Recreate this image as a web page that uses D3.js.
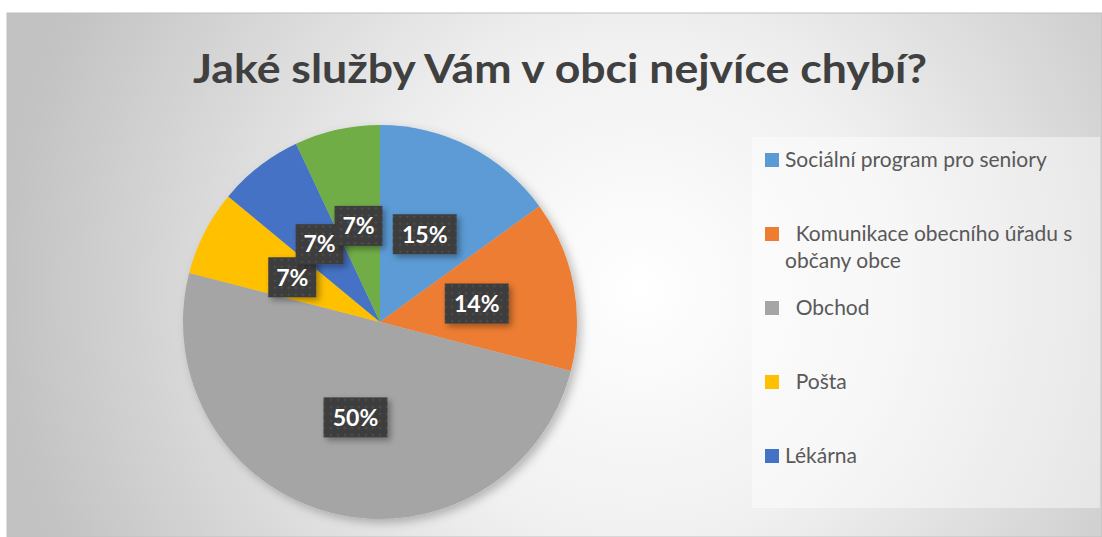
<!DOCTYPE html>
<html>
<head>
<meta charset="utf-8">
<script src="https://cdn.jsdelivr.net/npm/d3@7"></script>
<style>
  body { margin: 0; background: #fff; }
  svg { display: block; font-family: Lato, 'Open Sans', sans-serif; }
</style>
</head>
<body>
<svg></svg>
<script>
const title = 'Jaké služby Vám v obci nejvíce chybí?';
const categories = [
  'Sociální program pro seniory',
  '  Komunikace obecního úřadu s občany obce',
  '  Obchod',
  '  Pošta',
  'Lékárna',
  'Jiné',
];
const values = [15, 14, 50, 7, 7, 7];
const colors = ['#5B9BD5', '#ED7D31', '#A5A5A5', '#FFC000', '#4472C4', '#70AD47'];

const width = 1102;
const height = 537;

const svg = d3.select('svg')
  .attr('width', width)
  .attr('height', height);

const defs = svg.append('defs');

const bg = defs.append('radialGradient')
  .attr('id', 'bg')
  .attr('gradientUnits', 'userSpaceOnUse')
  .attr('cx', 640).attr('cy', 290).attr('r', 640);
bg.append('stop').attr('offset', 0).attr('stop-color', '#ffffff');
bg.append('stop').attr('offset', 0.4).attr('stop-color', '#f0f0f0');
bg.append('stop').attr('offset', 1).attr('stop-color', '#c2c2c2');

const dots = defs.append('pattern')
  .attr('id', 'dots')
  .attr('patternUnits', 'userSpaceOnUse')
  .attr('width', 7).attr('height', 7);
dots.append('rect').attr('width', 7).attr('height', 7).attr('fill', '#3d3d3d');
dots.append('circle').attr('cx', 3.5).attr('cy', 3.5).attr('r', 1).attr('fill', '#575757');

const shadow = defs.append('filter').attr('id', 'shadow')
  .attr('x', '-20%').attr('y', '-20%').attr('width', '150%').attr('height', '150%');
shadow.append('feDropShadow')
  .attr('dx', 3).attr('dy', 3).attr('stdDeviation', 3)
  .attr('flood-color', '#000').attr('flood-opacity', 0.35);

const pieShadow = defs.append('filter').attr('id', 'pieShadow')
  .attr('x', '-20%').attr('y', '-20%').attr('width', '140%').attr('height', '140%');
pieShadow.append('feDropShadow')
  .attr('dx', 4).attr('dy', 4).attr('stdDeviation', 5)
  .attr('flood-color', '#000').attr('flood-opacity', 0.25);

// chart area
svg.append('rect')
  .attr('x', 7).attr('y', 13)
  .attr('width', width - 7).attr('height', height - 13)
  .attr('fill', 'url(#bg)')
  .attr('stroke', '#c0c0c0');

svg.append('text')
  .attr('x', 560).attr('y', 83)
  .attr('text-anchor', 'middle')
  .attr('font-size', 40)
  .attr('font-weight', 700)
  .attr('fill', '#404040')
  .attr('textLength', 734)
  .attr('lengthAdjust', 'spacingAndGlyphs')
  .text(title);

// pie
const cx = 380, cy = 322, r = 197;
const pie = d3.pie().sort(null).value(d => d);
const arcs = pie(values);
const arc = d3.arc().innerRadius(0).outerRadius(r);

const g = svg.append('g').attr('transform', `translate(${cx},${cy})`);

g.append('g')
  .attr('filter', 'url(#pieShadow)')
  .selectAll('path')
  .data(arcs)
  .enter()
  .append('path')
  .attr('d', arc)
  .attr('fill', (d, i) => colors[i]);

const labels = g.selectAll('g.lbl')
  .data(arcs)
  .enter()
  .append('g')
  .attr('class', 'lbl')
  .attr('transform', d => `translate(${arc.centroid(d)})`);

labels.append('rect')
  .attr('x', d => (d.data >= 10 ? -32 : -24))
  .attr('y', -20)
  .attr('width', d => (d.data >= 10 ? 64 : 48))
  .attr('height', 40)
  .attr('fill', 'url(#dots)')
  .attr('filter', 'url(#shadow)');

labels.append('text')
  .attr('text-anchor', 'middle')
  .attr('dy', '0.36em')
  .attr('font-size', 23)
  .attr('font-weight', 700)
  .attr('fill', '#fff')
  .text(d => d.data + '%');

// legend
const legendBox = { x: 752, y: 137, w: 348, h: 371 };
svg.append('rect')
  .attr('x', legendBox.x).attr('y', legendBox.y)
  .attr('width', legendBox.w).attr('height', legendBox.h)
  .attr('fill', '#fff')
  .attr('fill-opacity', 0.45);

const legend = svg.append('g');
const rowY = d3.scaleLinear().domain([0, 1]).range([160, 234]);

// only entries that fit in the box are drawn (the last one is cut off in the original)
categories.forEach((name, i) => {
  const y = rowY(i);
  if (y + 10 > legendBox.y + legendBox.h) return;
  legend.append('rect')
    .attr('x', 765).attr('y', y - 7)
    .attr('width', 14).attr('height', 14)
    .attr('fill', colors[i]);

  const t = legend.append('text')
    .attr('x', 785).attr('y', y)
    .attr('dy', '0.35em')
    .attr('font-size', 21)
    .attr('fill', '#595959')
    .style('white-space', 'pre');

  // simple word wrap
  const words = name.split(/(?<=\S) /);
  let line = [];
  let tspan = t.append('tspan').attr('x', 785);
  words.forEach(w => {
    line.push(w);
    tspan.text(line.join(' '));
    if (tspan.node().getComputedTextLength() > 308 && line.length > 1) {
      line.pop();
      tspan.text(line.join(' '));
      line = [w.trim()];
      tspan = t.append('tspan').attr('x', 785).attr('dy', 27).text(w.trim());
    }
  });
});
</script>
</body>
</html>
